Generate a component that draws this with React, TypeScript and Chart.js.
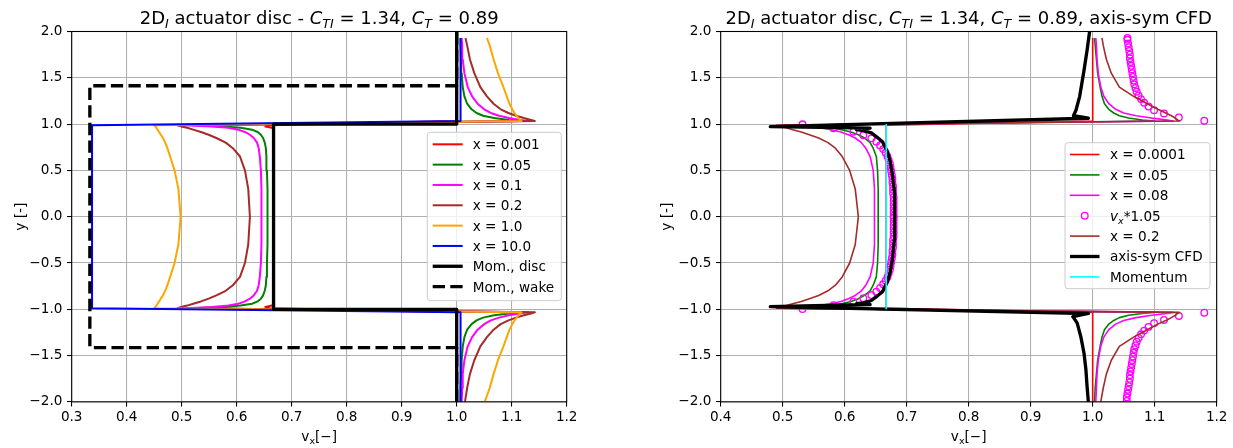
import React, { useEffect, useRef } from "react";
import { Chart, registerables } from "chart.js";
Chart.register(...registerables);

const FONT = "'DejaVu Sans', sans-serif";
const FS = 13.6;
const TITLE_FS = 18;

// ---------- shared y samples of the analytical profiles ----------
const yProfile = [
  -2.0, -1.85, -1.7, -1.55, -1.4, -1.3, -1.22, -1.16, -1.12, -1.09, -1.065, -1.045, -1.033,
  -0.988, -0.975, -0.96, -0.94, -0.915, -0.885, -0.85, -0.8, -0.74, -0.65, -0.5, -0.3, 0, 0.3, 0.5, 0.65, 0.74, 0.8, 0.85, 0.885, 0.915, 0.94, 0.96, 0.975, 0.988,
  1.033, 1.045, 1.065, 1.09, 1.12, 1.16, 1.22, 1.3, 1.4, 1.55, 1.7, 1.85, 1.93,
];

// ---------- left panel ----------
const vxL_001 = [
  1.0, 1.0, 1.0, 1.0, 1.0, 1.0, 1.0, 1.0, 1.0, 1.0, 1.0, 1.0, 1.0,
  0.66, 0.652, 0.664, 0.667, 0.667, 0.667, 0.667, 0.667, 0.667, 0.667, 0.667, 0.667, 0.667, 0.667, 0.667, 0.667, 0.667, 0.667, 0.667, 0.667, 0.667, 0.667, 0.664, 0.652, 0.66,
  1.0, 1.0, 1.0, 1.0, 1.0, 1.0, 1.0, 1.0, 1.0, 1.0, 1.0, 1.0, 1.0,
];
const vxL_05 = [
  1.007, 1.007, 1.008, 1.009, 1.011, 1.014, 1.019, 1.027, 1.036, 1.048, 1.068, 1.095, 1.12,
  0.52, 0.575, 0.607, 0.628, 0.638, 0.644, 0.648, 0.651, 0.653, 0.654, 0.655, 0.656, 0.656, 0.656, 0.655, 0.654, 0.653, 0.651, 0.648, 0.644, 0.638, 0.628, 0.607, 0.575, 0.52,
  1.12, 1.095, 1.068, 1.048, 1.036, 1.027, 1.019, 1.014, 1.011, 1.009, 1.008, 1.007, 1.007,
];
const vxL_1 = [
  1.009, 1.01, 1.011, 1.014, 1.02, 1.028, 1.038, 1.05, 1.062, 1.077, 1.095, 1.115, 1.13,
  0.508, 0.555, 0.585, 0.603, 0.615, 0.624, 0.631, 0.637, 0.64, 0.642, 0.644, 0.645, 0.645, 0.645, 0.644, 0.642, 0.64, 0.637, 0.631, 0.624, 0.615, 0.603, 0.585, 0.555, 0.508,
  1.13, 1.115, 1.095, 1.077, 1.062, 1.05, 1.038, 1.028, 1.02, 1.014, 1.011, 1.01, 1.009,
];
const vxL_2 = [
  1.015, 1.019, 1.024, 1.032, 1.043, 1.055, 1.067, 1.08, 1.094, 1.108, 1.122, 1.135, 1.142,
  0.492, 0.499, 0.51, 0.521, 0.535, 0.549, 0.563, 0.58, 0.593, 0.606, 0.615, 0.621, 0.624, 0.621, 0.615, 0.606, 0.593, 0.58, 0.563, 0.549, 0.535, 0.521, 0.51, 0.499, 0.492,
  1.142, 1.135, 1.122, 1.108, 1.094, 1.08, 1.067, 1.055, 1.043, 1.032, 1.024, 1.019, 1.016,
];
const vxL_10 = [
  1.051, 1.06, 1.067, 1.075, 1.085, 1.091, 1.096, 1.101, 1.105, 1.109, 1.112, 1.115, 1.118,
  0.45, 0.452, 0.454, 0.456, 0.459, 0.462, 0.466, 0.47, 0.474, 0.479, 0.487, 0.494, 0.498, 0.494, 0.487, 0.479, 0.474, 0.47, 0.466, 0.462, 0.459, 0.456, 0.454, 0.452, 0.45,
  1.118, 1.115, 1.112, 1.109, 1.105, 1.101, 1.096, 1.091, 1.085, 1.075, 1.067, 1.06, 1.055,
];
const vxL_100 = [
  1.007, 1.007, 1.007, 1.007, 1.007, 1.007, 1.007, 1.007, 1.007, 1.007, 1.007, 1.007, 1.007,
  0.337, 0.337, 0.337, 0.337, 0.337, 0.337, 0.337, 0.337, 0.337, 0.337, 0.337, 0.337, 0.337, 0.337, 0.337, 0.337, 0.337, 0.337, 0.337, 0.337, 0.337, 0.337, 0.337, 0.337, 0.337,
  1.007, 1.007, 1.007, 1.007, 1.007, 1.007, 1.007, 1.007, 1.007, 1.007, 1.007, 1.007, 1.007,
];
const momDiscVx = [1.0, 1.0, 0.667, 0.667, 1.0, 1.0];
const momDiscY = [-2.0, -1.0, -1.0, 1.0, 1.0, 2.0];
const momWakeVx = [1.0, 1.0, 0.333, 0.333, 1.0, 1.0];
const momWakeY = [-2.0, -1.414, -1.414, 1.414, 1.414, 2.0];

// ---------- right panel ----------
const vxR_0001 = [
  1.0, 1.0, 1.0, 1.0, 1.0, 1.0, 1.0, 1.0, 1.0, 1.0, 1.0, 1.0, 1.0,
  0.667, 0.667, 0.667, 0.667, 0.667, 0.667, 0.667, 0.667, 0.667, 0.667, 0.667, 0.667, 0.667, 0.667, 0.667, 0.667, 0.667, 0.667, 0.667, 0.667, 0.667, 0.667, 0.667, 0.667, 0.667,
  1.0, 1.0, 1.0, 1.0, 1.0, 1.0, 1.0, 1.0, 1.0, 1.0, 1.0, 1.0, 1.0,
];
const vxR_05 = [
  1.003, 1.004, 1.006, 1.008, 1.012, 1.015, 1.019, 1.026, 1.034, 1.043, 1.058, 1.08, 1.1,
  0.5, 0.555, 0.578, 0.595, 0.61, 0.622, 0.632, 0.641, 0.646, 0.651, 0.653, 0.654, 0.654, 0.654, 0.653, 0.651, 0.646, 0.641, 0.632, 0.622, 0.61, 0.595, 0.578, 0.555, 0.5,
  1.1, 1.08, 1.058, 1.043, 1.034, 1.026, 1.019, 1.015, 1.012, 1.008, 1.006, 1.004, 1.003,
];
const vxR_08 = [
  1.005, 1.006, 1.007, 1.009, 1.013, 1.018, 1.026, 1.037, 1.05, 1.07, 1.095, 1.12, 1.13,
  0.495, 0.535, 0.56, 0.578, 0.594, 0.606, 0.617, 0.627, 0.634, 0.641, 0.646, 0.648, 0.648, 0.648, 0.646, 0.641, 0.634, 0.627, 0.617, 0.606, 0.594, 0.578, 0.56, 0.535, 0.495,
  1.13, 1.12, 1.095, 1.07, 1.05, 1.037, 1.026, 1.018, 1.013, 1.009, 1.007, 1.006, 1.005,
];
const vxR_2 = [
  1.013, 1.017, 1.022, 1.03, 1.043, 1.066, 1.088, 1.105, 1.118, 1.127, 1.133, 1.137, 1.14,
  0.49, 0.497, 0.506, 0.516, 0.53, 0.543, 0.558, 0.573, 0.585, 0.596, 0.608, 0.617, 0.622, 0.617, 0.608, 0.596, 0.585, 0.573, 0.558, 0.543, 0.53, 0.516, 0.506, 0.497, 0.49,
  1.14, 1.137, 1.133, 1.127, 1.118, 1.105, 1.088, 1.066, 1.043, 1.03, 1.022, 1.017, 1.015,
];
const circY = [
  -1.99, -1.95, -1.91, -1.87, -1.83, -1.79, -1.75, -1.71, -1.67, -1.63, -1.59, -1.55, -1.51, -1.47, -1.43, -1.39, -1.35, -1.31, -1.27, -1.23, -1.19, -1.15, -1.115, -1.072, -1.037,
  -0.998, -0.955, -0.918, -0.88, -0.846, -0.81, -0.77, -0.73, -0.69, -0.65, -0.61, -0.57, -0.53, -0.49, -0.45, -0.41, -0.37, -0.33, -0.29, -0.25, -0.21, -0.17, -0.13, -0.09, -0.05, -0.01,
  0.01, 0.05, 0.09, 0.13, 0.17, 0.21, 0.25, 0.29, 0.33, 0.37, 0.41, 0.45, 0.49, 0.53, 0.57, 0.61, 0.65, 0.69, 0.73, 0.77, 0.81, 0.846, 0.88, 0.918, 0.955, 0.998,
  1.037, 1.072, 1.115, 1.15, 1.19, 1.23, 1.27, 1.31, 1.35, 1.39, 1.43, 1.47, 1.51, 1.55, 1.59, 1.63, 1.67, 1.71, 1.75, 1.79, 1.83, 1.87, 1.91, 1.93,
];
const circVx = [
  1.055, 1.055, 1.056, 1.057, 1.058, 1.059, 1.06, 1.06, 1.061, 1.062, 1.063, 1.064, 1.065, 1.066, 1.067, 1.069, 1.071, 1.074, 1.078, 1.083, 1.09, 1.099, 1.115, 1.139, 1.18,
  0.532, 0.582, 0.614, 0.63, 0.643, 0.651, 0.657, 0.662, 0.666, 0.669, 0.671, 0.673, 0.674, 0.675, 0.676, 0.677, 0.677, 0.678, 0.678, 0.678, 0.679, 0.679, 0.679, 0.679, 0.679, 0.679,
  0.679, 0.679, 0.679, 0.679, 0.679, 0.679, 0.678, 0.678, 0.678, 0.677, 0.677, 0.676, 0.675, 0.674, 0.673, 0.671, 0.669, 0.666, 0.662, 0.657, 0.651, 0.643, 0.63, 0.614, 0.582, 0.532,
  1.18, 1.139, 1.115, 1.099, 1.09, 1.083, 1.078, 1.074, 1.071, 1.069, 1.067, 1.066, 1.065, 1.064, 1.063, 1.062, 1.061, 1.06, 1.06, 1.059, 1.058, 1.057, 1.056, 1.056,
];
const cfdVx = [
  0.993, 0.991, 0.989, 0.986, 0.981, 0.975, 0.97, 0.968, 0.993,
  0.48, 0.641, 0.619, 0.63, 0.643, 0.652, 0.661, 0.669, 0.673, 0.677, 0.68, 0.681,
  0.68, 0.677, 0.673, 0.669, 0.661, 0.652, 0.643, 0.63, 0.619, 0.641, 0.48,
  0.993, 0.969, 0.973, 0.979, 0.986, 0.991, 0.995,
];
const cfdY = [
  -2.0, -1.84, -1.65, -1.475, -1.3, -1.15, -1.097, -1.08, -1.045,
  -0.972, -0.948, -0.938, -0.93, -0.905, -0.86, -0.81, -0.7, -0.61, -0.45, -0.25, 0,
  0.25, 0.45, 0.61, 0.7, 0.81, 0.86, 0.905, 0.93, 0.94, 0.956, 0.972,
  1.063, 1.09, 1.15, 1.3, 1.58, 1.8, 2.0,
];
const momVx = [0.667, 0.667];
const momY = [-1.0, 1.0];

// ---------- ticks ----------
const xTicksL = [0.3, 0.4, 0.5, 0.6, 0.7, 0.8, 0.9, 1.0, 1.1, 1.2];
const xLabelsL = ["0.3", "0.4", "0.5", "0.6", "0.7", "0.8", "0.9", "1.0", "1.1", "1.2"];
const xTicksR = [0.4, 0.5, 0.6, 0.7, 0.8, 0.9, 1.0, 1.1, 1.2];
const xLabelsR = ["0.4", "0.5", "0.6", "0.7", "0.8", "0.9", "1.0", "1.1", "1.2"];
const yTicks = [-2.0, -1.5, -1.0, -0.5, 0.0, 0.5, 1.0, 1.5, 2.0];
const yLabels = ["\u22122.0", "\u22121.5", "\u22121.0", "\u22120.5", "0.0", "0.5", "1.0", "1.5", "2.0"];

type Seg = { t: string; it?: boolean; sub?: boolean };
type Series = { label: Seg[]; vx: number[]; y: number[]; color: string; width: number; dash?: number[]; marker?: boolean };

const titleL: Seg[] = [
  { t: "2D" }, { t: "I", it: true, sub: true }, { t: " actuator disc - " },
  { t: "C", it: true }, { t: "TI", it: true, sub: true }, { t: " = 1.34, " },
  { t: "C", it: true }, { t: "T", it: true, sub: true }, { t: " = 0.89" },
];
const titleR: Seg[] = [
  { t: "2D" }, { t: "I", it: true, sub: true }, { t: " actuator disc, " },
  { t: "C", it: true }, { t: "TI", it: true, sub: true }, { t: " = 1.34, " },
  { t: "C", it: true }, { t: "T", it: true, sub: true }, { t: " = 0.89, axis-sym CFD" },
];
const xTitle: Seg[] = [{ t: "v" }, { t: "x", sub: true }, { t: "[\u2212]" }];

const seriesL: Series[] = [
  { label: [{ t: "x = 0.001" }], vx: vxL_001, y: yProfile, color: "#ff0000", width: 2 },
  { label: [{ t: "x = 0.05" }], vx: vxL_05, y: yProfile, color: "#008000", width: 2 },
  { label: [{ t: "x = 0.1" }], vx: vxL_1, y: yProfile, color: "#ff00ff", width: 2 },
  { label: [{ t: "x = 0.2" }], vx: vxL_2, y: yProfile, color: "#a52a2a", width: 2 },
  { label: [{ t: "x = 1.0" }], vx: vxL_10, y: yProfile, color: "#ffa500", width: 2 },
  { label: [{ t: "x = 10.0" }], vx: vxL_100, y: yProfile, color: "#0000ff", width: 2 },
  { label: [{ t: "Mom., disc" }], vx: momDiscVx, y: momDiscY, color: "#000000", width: 3.33 },
  { label: [{ t: "Mom., wake" }], vx: momWakeVx, y: momWakeY, color: "#000000", width: 3.33, dash: [12.3, 5.3] },
];
const seriesR: Series[] = [
  { label: [{ t: "x = 0.0001" }], vx: vxR_0001, y: yProfile, color: "#ff0000", width: 1.6 },
  { label: [{ t: "x = 0.05" }], vx: vxR_05, y: yProfile, color: "#008000", width: 1.6 },
  { label: [{ t: "x = 0.08" }], vx: vxR_08, y: yProfile, color: "#ff00ff", width: 1.6 },
  { label: [{ t: "v", it: true }, { t: "x", it: true, sub: true }, { t: "*1.05" }], vx: circVx, y: circY, color: "#ff00ff", width: 1.33, marker: true },
  { label: [{ t: "x = 0.2" }], vx: vxR_2, y: yProfile, color: "#a52a2a", width: 1.6 },
  { label: [{ t: "axis-sym CFD" }], vx: cfdVx, y: cfdY, color: "#000000", width: 3.33 },
  { label: [{ t: "Momentum" }], vx: momVx, y: momY, color: "#00ffff", width: 1.6 },
];

function drawRich(ctx: CanvasRenderingContext2D, segs: Seg[], x: number, baseline: number, size: number, align: "center" | "left") {
  const fonts = segs.map((s) => `${s.it ? "italic " : ""}${s.sub ? size * 0.7 : size}px ${FONT}`);
  const ws = segs.map((s, i) => {
    ctx.font = fonts[i];
    return ctx.measureText(s.t).width;
  });
  const total = ws.reduce((a, b) => a + b, 0);
  let cx = align === "center" ? x - total / 2 : x;
  ctx.textAlign = "left";
  ctx.textBaseline = "alphabetic";
  segs.forEach((s, i) => {
    ctx.font = fonts[i];
    ctx.fillText(s.t, cx, baseline + (s.sub ? size * 0.22 : 0));
    cx += ws[i];
  });
}

type LegendBox = { x: number; y: number; w: number; h: number; first: number; step: number; h0: number; h1: number; tx: number };

function decorPlugin(title: Seg[], yTitleX: number, lg: LegendBox, series: Series[]) {
  return {
    id: "decor",
    afterDatasetsDraw(chart: any) {
      const ctx: CanvasRenderingContext2D = chart.ctx;
      const a = chart.chartArea;
      ctx.save();
      ctx.strokeStyle = "#000";
      ctx.lineWidth = 1.07;
      ctx.setLineDash([]);
      ctx.strokeRect(a.left, a.top, a.right - a.left, a.bottom - a.top);
      const r = 3;
      ctx.beginPath();
      ctx.moveTo(lg.x + r, lg.y);
      ctx.lineTo(lg.x + lg.w - r, lg.y);
      ctx.quadraticCurveTo(lg.x + lg.w, lg.y, lg.x + lg.w, lg.y + r);
      ctx.lineTo(lg.x + lg.w, lg.y + lg.h - r);
      ctx.quadraticCurveTo(lg.x + lg.w, lg.y + lg.h, lg.x + lg.w - r, lg.y + lg.h);
      ctx.lineTo(lg.x + r, lg.y + lg.h);
      ctx.quadraticCurveTo(lg.x, lg.y + lg.h, lg.x, lg.y + lg.h - r);
      ctx.lineTo(lg.x, lg.y + r);
      ctx.quadraticCurveTo(lg.x, lg.y, lg.x + r, lg.y);
      ctx.closePath();
      ctx.fillStyle = "rgba(255,255,255,0.8)";
      ctx.fill();
      ctx.strokeStyle = "#cccccc";
      ctx.lineWidth = 1;
      ctx.stroke();
      series.forEach((s, i) => {
        const cy = lg.first + i * lg.step;
        if (s.marker) {
          ctx.beginPath();
          ctx.setLineDash([]);
          ctx.arc((lg.h0 + lg.h1) / 2, cy, 3.3, 0, Math.PI * 2);
          ctx.strokeStyle = s.color;
          ctx.lineWidth = s.width;
          ctx.stroke();
        } else {
          ctx.beginPath();
          ctx.setLineDash(s.dash || []);
          ctx.moveTo(lg.h0, cy);
          ctx.lineTo(lg.h1, cy);
          ctx.strokeStyle = s.color;
          ctx.lineWidth = s.width;
          ctx.lineCap = "butt";
          ctx.stroke();
        }
        ctx.setLineDash([]);
        ctx.fillStyle = "#000";
        drawRich(ctx, s.label, lg.tx, cy + FS * 0.36, FS, "left");
      });
      ctx.restore();
    },
    afterDraw(chart: any) {
      const ctx: CanvasRenderingContext2D = chart.ctx;
      const a = chart.chartArea;
      ctx.save();
      ctx.fillStyle = "#000";
      drawRich(ctx, title, (a.left + a.right) / 2, 24, TITLE_FS, "center");
      drawRich(ctx, xTitle, (a.left + a.right) / 2, 441, FS, "center");
      ctx.translate(yTitleX, (a.top + a.bottom) / 2);
      ctx.rotate(-Math.PI / 2);
      ctx.font = `${FS}px ${FONT}`;
      ctx.textAlign = "center";
      ctx.textBaseline = "middle";
      ctx.fillText("y [-]", 0, 0);
      ctx.restore();
    },
  };
}

function makeConfig(opts: {
  series: Series[]; xTicks: number[]; xLabels: string[]; xMin: number; xMax: number;
  yWidth: number; padRight: number; title: Seg[]; yTitleX: number; legend: LegendBox;
}) {
  const n = opts.series.length;
  const datasets = opts.series.map((s, i) => ({
    label: s.label.map((g) => g.t).join(""),
    data: s.vx.map((x, k) => ({ x, y: s.y[k] })),
    showLine: !s.marker,
    borderColor: s.color,
    backgroundColor: s.color,
    borderWidth: s.marker ? 0 : s.width,
    borderDash: s.dash || [],
    borderJoinStyle: "round",
    pointRadius: s.marker ? 3.3 : 0,
    pointHoverRadius: 0,
    pointBorderColor: s.color,
    pointBackgroundColor: "rgba(0,0,0,0)",
    pointBorderWidth: s.marker ? s.width : 0,
    tension: 0,
    clip: 0,
    order: n - i,
  }));
  const grid = { color: "#b0b0b0", lineWidth: 1.07, tickLength: 4.67, tickColor: "#000", tickWidth: 1.07 };
  return {
    type: "scatter",
    data: { datasets },
    options: {
      animation: false,
      responsive: false,
      events: [],
      layout: { padding: { left: 0, top: 31.5, right: opts.padRight, bottom: 0 } },
      plugins: { legend: { display: false }, tooltip: { enabled: false }, title: { display: false } },
      scales: {
        x: {
          type: "linear",
          min: opts.xMin,
          max: opts.xMax,
          afterBuildTicks: (s: any) => { s.ticks = opts.xTicks.map((v) => ({ value: v })); },
          afterFit: (s: any) => { s.height = 46.1; },
          grid,
          border: { display: false },
          ticks: {
            color: "#000", font: { family: FONT, size: FS }, padding: 3, maxRotation: 0, autoSkip: false,
            callback: (_v: any, i: number) => opts.xLabels[i],
          },
        },
        y: {
          type: "linear",
          min: -2,
          max: 2,
          afterBuildTicks: (s: any) => { s.ticks = yTicks.map((v) => ({ value: v })); },
          afterFit: (s: any) => { s.width = opts.yWidth; },
          grid,
          border: { display: false },
          ticks: {
            color: "#000", font: { family: FONT, size: FS }, padding: 4.67, autoSkip: false,
            callback: (_v: any, i: number) => yLabels[i],
          },
        },
      },
    },
    plugins: [decorPlugin(opts.title, opts.yTitleX, opts.legend, opts.series)],
  };
}

function Panel(props: { left: number; width: number; build: () => any }) {
  const ref = useRef<HTMLCanvasElement>(null);
  useEffect(() => {
    const chart = new Chart(ref.current as HTMLCanvasElement, props.build());
    return () => chart.destroy();
  }, []);
  return (
    <canvas
      ref={ref}
      width={props.width}
      height={448}
      style={{ position: "absolute", left: props.left, top: 0, width: props.width, height: 448 }}
    />
  );
}

export default function App() {
  return (
    <div style={{ position: "fixed", left: 0, top: 0, width: 1233, height: 448, background: "#fff", overflow: "hidden" }}>
      <Panel
        left={0}
        width={620}
        build={() =>
          makeConfig({
            series: seriesL, xTicks: xTicksL, xLabels: xLabelsL, xMin: 0.3, xMax: 1.2,
            yWidth: 71.7, padRight: 53.3, title: titleL, yTitleX: 21.5,
            legend: { x: 427.3, y: 132.3, w: 134, h: 168.4, first: 144.3, step: 20.33, h0: 432.7, h1: 462.7, tx: 472.7 },
          })
        }
      />
      <Panel
        left={620}
        width={613}
        build={() =>
          makeConfig({
            series: seriesR, xTicks: xTicksR, xLabels: xLabelsR, xMin: 0.4, xMax: 1.2,
            yWidth: 100.7, padRight: 16.3, title: titleR, yTitleX: 47.5,
            legend: { x: 445, y: 142.7, w: 145, h: 146, first: 154.5, step: 20.4, h0: 450, h1: 479.5, tx: 490 },
          })
        }
      />
    </div>
  );
}
